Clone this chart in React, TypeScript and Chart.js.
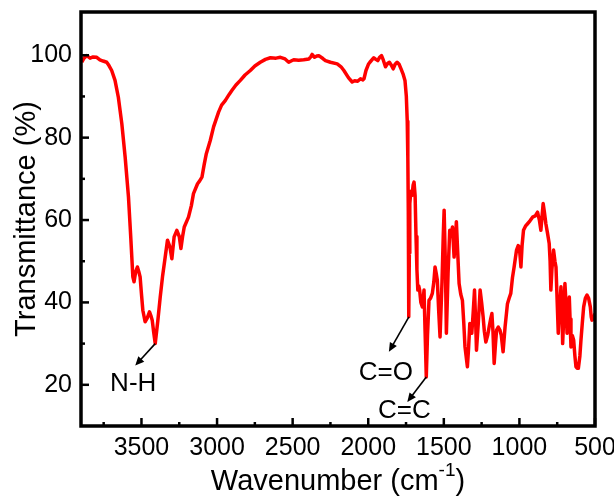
import React, { useEffect, useRef } from 'react';
import { Chart, registerables } from 'chart.js';

Chart.register(...registerables);

// ---- data ----
const wavenumbers = [
  3895, 3880, 3862, 3840, 3820, 3796, 3775, 3754, 3730, 3715, 3697, 3675, 3653, 3630, 3608, 3586,
  3571, 3557, 3549, 3538, 3527, 3518, 3509, 3500, 3491, 3476, 3462, 3447, 3438, 3429, 3420, 3409,
  3392, 3376, 3360, 3343, 3328, 3312, 3299, 3284, 3266, 3250, 3239, 3228, 3217, 3189, 3170, 3156,
  3129, 3115, 3100, 3085, 3071, 3045, 3023, 2990, 2970, 2946, 2920, 2901, 2875, 2846, 2815, 2780,
  2750, 2714, 2680, 2647, 2610, 2581, 2550, 2526, 2510, 2493, 2460, 2427, 2393, 2380, 2371, 2355,
  2340, 2327, 2300, 2283, 2250, 2205, 2180, 2161, 2130, 2106, 2090, 2070, 2051, 2035, 2028, 2015,
  1999, 1989, 1963, 1950, 1937, 1925, 1912, 1900, 1886, 1872, 1860, 1847, 1835, 1822, 1809, 1796,
  1783, 1770, 1757, 1748, 1742, 1738, 1735, 1733, 1731, 1728, 1725, 1718, 1710, 1703, 1697, 1690,
  1684, 1678, 1672, 1666, 1660, 1652, 1642, 1636, 1631, 1624, 1616, 1608, 1598, 1588, 1576, 1566,
  1558, 1550, 1543, 1534, 1525, 1512, 1504, 1498, 1490, 1483, 1472, 1461, 1452, 1443, 1432, 1424,
  1417, 1408, 1399, 1388, 1377, 1368, 1360, 1344, 1336, 1328, 1315, 1305, 1297, 1290, 1284, 1272,
  1260, 1250, 1240, 1232, 1222, 1210, 1200, 1190, 1182, 1175, 1167, 1158, 1151, 1140, 1129, 1120,
  1108, 1095, 1079, 1068, 1057, 1046, 1035, 1019, 1008, 1001, 995, 990, 982, 973, 960, 946,
  930, 913, 895, 880, 868, 858, 850, 843, 835, 825, 815, 803, 797, 792, 785, 774,
  765, 758, 750, 743, 735, 725, 718, 714, 706, 699, 692, 685, 677, 670, 665, 659,
  650, 641, 633, 626, 618, 610, 600, 593, 584, 575, 564, 553, 542, 531, 525, 520,
  510, 500,
];

const transmittance = [
  98.3, 99.3, 99.9, 99.3, 99.6, 99.5, 98.9, 98.6, 98.3, 97.5, 96.3, 93.9, 89.8, 83.4, 75.3, 65.6,
  55.9, 46.2, 45.0, 47.5, 48.6, 47.5, 46.2, 42.0, 38.1, 35.3, 36.2, 37.7, 36.8, 35.7, 33.0, 30.0,
  35.5, 41.3, 46.5, 51.0, 55.1, 53.5, 50.6, 55.9, 57.5, 56.0, 53.1, 56.0, 58.3, 60.7, 63.5, 66.4,
  68.8, 69.5, 70.4, 73.5, 76.1, 79.3, 82.6, 86.2, 87.9, 89.0, 90.5, 91.5, 92.8, 93.9, 95.2, 96.3,
  97.4, 98.3, 99.0, 99.4, 99.3, 99.5, 99.1, 98.3, 98.6, 98.9, 98.8, 98.9, 99.1, 99.6, 100.2, 99.5,
  99.8, 99.9, 99.2, 98.7, 98.3, 97.9, 97.2, 96.3, 94.5, 93.5, 93.8, 93.7, 94.3, 94.0, 94.3, 96.3,
  97.8, 98.3, 99.4, 99.0, 98.7, 99.5, 99.9, 98.8, 97.2, 98.0, 98.3, 97.6, 96.7, 97.8, 98.3, 97.8,
  96.7, 95.5, 93.9, 90.0, 84.0, 75.0, 62.0, 48.0, 36.5, 52.0, 64.0, 67.0, 66.0, 68.5, 69.2, 66.0,
  56.0, 48.0, 43.0, 44.0, 43.0, 40.0, 38.9, 41.0, 43.0, 33.0, 21.9, 32.0, 40.5, 41.0, 42.2, 45.0,
  48.6, 47.0, 45.4, 38.0, 31.6, 45.0, 56.0, 62.4, 50.0, 32.5, 47.0, 57.5, 56.0, 58.3, 51.0, 55.0,
  59.6, 52.0, 44.6, 42.0, 40.5, 35.0, 29.2, 24.4, 29.0, 34.9, 32.5, 38.0, 43.0, 36.0, 28.4, 35.0,
  43.0, 40.0, 36.5, 33.0, 30.4, 32.0, 34.1, 36.0, 37.3, 33.0, 25.2, 30.0, 33.3, 34.0, 33.3, 32.0,
  28.0, 34.0, 39.7, 41.0, 42.2, 46.0, 48.6, 52.7, 53.8, 53.5, 51.0, 48.6, 54.0, 57.5, 58.5, 59.1,
  59.8, 60.7, 61.0, 61.9, 60.0, 57.5, 61.0, 64.0, 62.0, 59.1, 57.0, 54.3, 50.0, 43.0, 48.0, 52.7,
  50.0, 48.6, 40.0, 32.5, 38.0, 43.8, 38.0, 30.0, 37.0, 44.6, 40.0, 32.5, 36.0, 41.3, 36.0, 29.2,
  32.0, 30.8, 27.0, 24.4, 24.0, 24.0, 27.0, 30.8, 35.0, 38.9, 41.0, 41.8, 41.0, 38.9, 36.5, 35.7,
  36.0, 37.3,
];

const xTickValues = [3500, 3000, 2500, 2000, 1500, 1000, 500];
const yTickValues = [20, 40, 60, 80, 100];
const annotationLabels = ['N-H', 'C=O', 'C=C'];
const annotationWavenumbers = [3409, 1731, 1616];
const annotationValues = [30.0, 36.5, 21.9];

const xTitle = 'Wavenumber (cm';
const xTitleSup = '-1';
const xTitleEnd = ')';
const yTitle = 'Transmittance (%)';

const FONT = '"Liberation Sans", Arial, Helvetica, sans-serif';

// arrow tip / label offsets (pixels) from the annotated point
const annotationLayout = [
  { tip: [-20, 22], label: [-22, 40] },
  { tip: [-20, 35], label: [-23, 56] },
  { tip: [-19, 25], label: [-22, 34] },
];

const zeroPadding = (s: any) => {
  s.paddingTop = 0;
  s.paddingBottom = 0;
  s.paddingLeft = 0;
  s.paddingRight = 0;
};

const decorPlugin = {
  id: 'decor',
  afterDatasetsDraw(chart: any) {
    const { ctx, chartArea: a } = chart;
    const xs = chart.scales.x;
    const ys = chart.scales.y;
    ctx.save();
    ctx.strokeStyle = '#000';
    ctx.fillStyle = '#000';

    // inward tick marks (major + minor)
    ctx.lineWidth = 2.5;
    ctx.lineCap = 'butt';
    const xMin = Math.min(...xTickValues);
    const xMax = Math.max(...xTickValues);
    for (let i = 0; i < xTickValues.length; i++) {
      const px = xs.getPixelForValue(xTickValues[i]);
      ctx.beginPath();
      ctx.moveTo(px, a.bottom);
      ctx.lineTo(px, a.bottom - 8);
      ctx.stroke();
    }
    for (let v = xMin + 250; v <= xMax + 250; v += 500) {
      const px = xs.getPixelForValue(v);
      ctx.beginPath();
      ctx.moveTo(px, a.bottom);
      ctx.lineTo(px, a.bottom - 4);
      ctx.stroke();
    }
    for (let i = 0; i < yTickValues.length; i++) {
      const v = yTickValues[i];
      const py = ys.getPixelForValue(v);
      ctx.beginPath();
      ctx.moveTo(a.left, py);
      ctx.lineTo(a.left + 8, py);
      ctx.stroke();
      const pm = ys.getPixelForValue(v + 10);
      if (pm > a.top + 4) {
        ctx.beginPath();
        ctx.moveTo(a.left, pm);
        ctx.lineTo(a.left + 4, pm);
        ctx.stroke();
      }
    }

    // frame
    ctx.lineWidth = 3.5;
    ctx.strokeRect(a.left, a.top, a.right - a.left, a.bottom - a.top);

    // annotations
    for (let i = 0; i < annotationLabels.length; i++) {
      const px = xs.getPixelForValue(annotationWavenumbers[i]);
      const py = ys.getPixelForValue(annotationValues[i]);
      const lay = annotationLayout[i];
      const tx = px + lay.tip[0];
      const ty = py + lay.tip[1];
      const ang = Math.atan2(ty - py, tx - px);
      const head = 9;
      const hw = 4;
      ctx.lineWidth = 1.6;
      ctx.beginPath();
      ctx.moveTo(px, py);
      ctx.lineTo(tx - Math.cos(ang) * head * 0.8, ty - Math.sin(ang) * head * 0.8);
      ctx.stroke();
      ctx.beginPath();
      ctx.moveTo(tx, ty);
      ctx.lineTo(tx - Math.cos(ang) * head - Math.sin(ang) * hw, ty - Math.sin(ang) * head + Math.cos(ang) * hw);
      ctx.lineTo(tx - Math.cos(ang) * head + Math.sin(ang) * hw, ty - Math.sin(ang) * head - Math.cos(ang) * hw);
      ctx.closePath();
      ctx.fill();

      ctx.font = `26px ${FONT}`;
      ctx.textAlign = 'center';
      ctx.textBaseline = 'middle';
      ctx.fillText(annotationLabels[i], px + lay.label[0], py + lay.label[1]);
    }

    // x axis title with superscript
    const cx = (a.left + a.right) / 2;
    ctx.textBaseline = 'alphabetic';
    ctx.textAlign = 'left';
    ctx.font = `29px ${FONT}`;
    const w1 = ctx.measureText(xTitle).width;
    const w3 = ctx.measureText(xTitleEnd).width;
    ctx.font = `19px ${FONT}`;
    const w2 = ctx.measureText(xTitleSup).width;
    let sx = cx - (w1 + w2 + w3) / 2;
    const base = 490;
    ctx.font = `29px ${FONT}`;
    ctx.fillText(xTitle, sx, base);
    sx += w1;
    ctx.font = `19px ${FONT}`;
    ctx.fillText(xTitleSup, sx, base - 14);
    sx += w2;
    ctx.font = `29px ${FONT}`;
    ctx.fillText(xTitleEnd, sx, base);

    // y axis title
    ctx.save();
    ctx.translate(35, (a.top + a.bottom) / 2);
    ctx.rotate(-Math.PI / 2);
    ctx.textAlign = 'center';
    ctx.textBaseline = 'alphabetic';
    ctx.font = `29px ${FONT}`;
    ctx.fillText(yTitle, 0, 0);
    ctx.restore();

    ctx.restore();
  },
};

export default function App() {
  const canvasRef = useRef<HTMLCanvasElement | null>(null);

  useEffect(() => {
    const canvas = canvasRef.current;
    if (!canvas) return;
    Chart.defaults.font.family = FONT;
    const points = wavenumbers.map((w, i) => ({ x: w, y: transmittance[i] }));
    const chart = new Chart(canvas, {
      type: 'line',
      data: {
        datasets: [
          {
            data: points,
            borderColor: '#ff0000',
            borderWidth: 3.5,
            borderJoinStyle: 'round',
            pointRadius: 0,
            tension: 0,
            fill: false,
          },
        ],
      },
      options: {
        responsive: false,
        animation: false,
        devicePixelRatio: 1,
        layout: { padding: { top: 12, right: 19, left: 0, bottom: 0 } },
        plugins: { legend: { display: false }, tooltip: { enabled: false }, title: { display: false } },
        scales: {
          x: {
            type: 'linear',
            min: 500,
            max: 3900,
            reverse: true,
            grid: { display: false, drawTicks: false },
            border: { display: false },
            afterFit: (s: any) => {
              s.height = 71;
              zeroPadding(s);
            },
            afterBuildTicks: (s: any) => {
              s.ticks = xTickValues.map((v) => ({ value: v }));
            },
            ticks: {
              autoSkip: false,
              maxRotation: 0,
              includeBounds: false,
              padding: 7,
              color: '#000',
              font: { size: 25, family: FONT },
              callback: (v: any) => String(v),
            },
          },
          y: {
            type: 'linear',
            min: 10,
            max: 110.5,
            grid: { display: false, drawTicks: false },
            border: { display: false },
            afterFit: (s: any) => {
              s.width = 81;
              zeroPadding(s);
            },
            afterBuildTicks: (s: any) => {
              s.ticks = yTickValues.map((v) => ({ value: v }));
            },
            ticks: {
              autoSkip: false,
              includeBounds: false,
              padding: 9,
              color: '#000',
              font: { size: 25, family: FONT },
              callback: (v: any) => String(v),
            },
          },
        },
      },
      plugins: [decorPlugin],
    });
    return () => chart.destroy();
  }, []);

  return (
    <div style={{ position: 'fixed', left: 0, top: 0, width: 614, height: 497, background: '#fff' }}>
      <canvas ref={canvasRef} width={614} height={497} style={{ display: 'block' }} />
    </div>
  );
}
